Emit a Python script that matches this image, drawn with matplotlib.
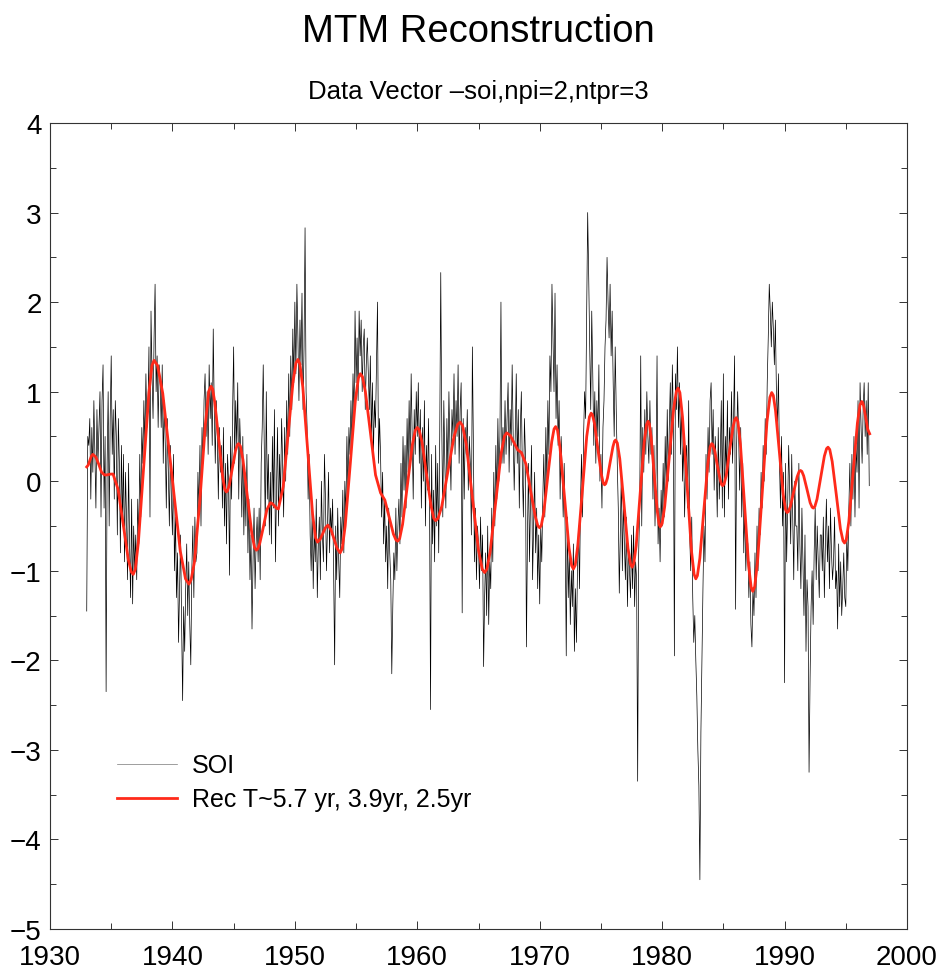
import numpy as np
import matplotlib
matplotlib.use("Agg")
import matplotlib.pyplot as plt
from matplotlib.ticker import MultipleLocator

plt.rcParams['font.family'] = ['Liberation Sans', 'DejaVu Sans']

# monthly SOI, one row per year, 1933-1996
soi_start = 1933
soi = [
    [-1.45, 0.5, 0.4, 0.7, -0.2, 0.6, 0.1, 0.9, 0.3, -0.3, 0.8, 0.2],      # 1933
    [0.6, 1.0, -0.4, 0.9, 1.3, -0.3, 0.5, -2.35, 0.2, 1.0, -0.5, 0.7],
    [1.4, 0.3, 0.8, -0.2, 0.9, 0.5, -0.6, 0.7, 0.2, -0.8, 0.4, -0.5],
    [0.3, -0.9, 0.1, -0.4, -1.1, 0.2, -0.7, -1.3, -0.2, -1.37, -0.5, -1.0],
    [-0.6, -1.1, -0.2, -0.7, 0.3, -0.4, 0.6, 0.2, 0.9, 0.4, 1.2, 0.6],
    [0.8, 1.5, -0.4, 1.9, 1.2, 0.7, 1.6, 2.2, 1.0, 1.4, 0.6, 1.3],
    [1.1, 0.6, 1.3, 0.2, 0.9, 0.4, -0.3, 0.7, 0.1, -0.5, 0.4, -0.2],
    [-0.6, 0.3, -1.0, -0.4, -1.3, -0.8, -1.8, -1.2, -0.6, -1.6, -2.45, -1.4],  # 1940
    [-1.9, -1.2, -0.7, -1.5, -0.9, -1.6, -2.05, -1.0, -0.5, -1.3, -0.4, -0.9],
    [-0.8, 0.1, -0.3, 0.4, -0.5, 0.6, 0.2, 0.9, 1.2, 0.5, 1.0, 0.3],
    [1.3, 0.7, 1.1, 0.4, 1.7, 0.8, 0.2, 0.9, 0.5, -0.2, 0.6, 0.1],
    [0.4, -0.3, 0.6, -0.5, 0.2, -0.7, 0.3, 0.0, -1.05, 0.5, -0.2, 0.8],
    [1.5, 0.2, 0.9, 0.4, 1.1, -0.2, 0.7, 0.3, -0.4, 0.5, -0.6, 0.1],
    [-0.5, 0.3, -0.8, -0.2, -1.1, -0.6, -1.65, -0.9, -0.3, -1.2, -0.7, -0.4],
    [-0.9, -0.3, -1.1, 0.2, 0.6, 1.3, 0.4, -0.5, 1.0, -0.2, 0.3, -0.6],
    [0.1, -0.7, 0.5, -0.3, 0.8, -0.9, -0.1, 0.6, -0.5, 0.3, -0.2, 0.7],
    [0.2, -0.4, 0.6, 0.0, 0.9, 0.3, 1.2, 0.5, 1.4, 0.8, 1.7, 1.1],
    [2.0, 1.2, 2.2, 1.6, 0.9, 1.8, 1.3, 2.1, 0.8, 1.5, 2.83, 1.0],         # 1950
    [0.6, -0.2, 0.3, -0.6, -1.0, -0.3, -1.2, -0.5, -0.9, -0.2, -1.3, -0.7],
    [-0.4, -1.1, 0.0, -0.6, -0.9, 0.3, -0.2, -1.0, -0.5, 0.1, -0.8, -0.3],
    [-0.6, -0.2, -1.0, -2.05, -0.5, -1.1, -0.3, -0.9, -1.3, -0.4, -0.7, -0.1],
    [-0.8, 0.0, -0.4, 0.5, -0.1, 0.6, 0.3, 0.9, 0.4, 1.2, 0.7, 1.9],
    [1.1, 1.6, 0.9, 1.9, 1.4, 1.8, 1.0, 1.5, 1.7, 0.8, 1.3, 1.6],
    [1.2, 0.8, 1.4, 0.5, 1.1, 0.3, 0.9, 0.6, 1.3, 2.0, 0.2, 0.7],
    [0.3, -0.4, 0.1, -0.7, -0.2, -0.9, -0.5, -1.2, -0.3, -0.8, -1.1, -2.15],
    [-1.4, -0.8, -1.1, -0.3, -1.0, -0.5, -0.2, -0.7, 0.2, -0.4, 0.5, -0.1],
    [0.4, -0.3, 0.7, 0.1, 0.9, 0.2, 1.2, 0.5, -0.2, 0.8, 0.3, 1.0],
    [0.5, 1.1, 0.2, 0.8, -0.3, 0.6, 0.0, 0.9, -0.5, 0.4, -0.1, 0.7],       # 1960
    [-0.2, -2.55, 0.3, -0.7, -0.1, -0.9, 0.4, -0.5, 0.2, -0.8, 0.5, 2.33],
    [0.6, -0.4, 0.9, 0.2, -0.3, 0.7, 0.1, 1.0, 0.4, -0.1, 0.8, 0.5],
    [1.2, 0.3, 0.9, 0.5, 1.3, 0.2, 0.8, 1.1, -1.47, 0.7, -0.2, 0.6],
    [0.3, 0.8, -0.1, 0.5, 0.2, -0.6, 1.5, 0.4, -0.9, -0.3, -1.1, -0.5],
    [-0.7, -1.2, -0.4, -1.0, -0.6, -2.07, -1.3, -0.8, -1.5, -0.5, -1.6, -0.9],
    [-1.2, -0.3, -0.9, 0.1, -0.5, 0.4, -0.2, 0.7, 0.0, 0.5, 2.0, 0.2],
    [0.6, 0.2, 0.9, 0.3, 0.7, 1.1, 0.1, 0.8, 0.4, 1.3, 0.5, -0.1],
    [0.5, 1.2, 0.2, 0.8, -0.3, 0.6, 1.0, 0.1, -0.4, 0.7, 0.3, -1.85],
    [-0.6, 0.2, -0.9, -0.2, 0.4, -1.1, -0.5, 0.1, -0.8, -0.3, -1.2, -0.6],
    [-1.37, -0.5, -0.9, -0.2, 0.3, -0.4, 0.6, 0.0, 0.9, 0.3, 1.4, 1.0],    # 1970
    [2.2, 1.6, 1.0, 2.1, 0.7, 1.3, 0.4, 0.9, -0.2, 0.5, 0.1, -0.4],
    [0.2, -0.6, -1.95, -0.4, -1.3, -0.8, -1.6, -1.0, -1.4, -0.7, -1.9, -1.2],
    [-1.8, -1.0, -0.5, -1.2, -0.2, 0.3, -0.4, 0.5, 1.0, 0.7, 1.8, 3.0],
    [2.3, 1.5, 0.8, 1.9, 1.2, 0.4, 1.0, 0.2, 0.9, 0.5, 1.3, 0.0],
    [0.3, -0.3, 0.6, 0.9, 1.5, 1.8, 2.5, 2.0, 1.6, 2.2, 1.4, 1.9],
    [1.1, 0.5, 1.5, 0.8, 0.2, -0.3, -1.25, -0.6, 0.1, -1.0, -0.2, -0.7],
    [-1.1, -0.4, -1.4, -0.7, -1.0, -1.3, -0.6, -1.2, -0.5, -1.4, -0.9, -1.1],
    [-3.35, -0.8, -0.3, 1.4, -0.5, 0.6, 0.1, 0.8, 0.3, 1.0, 0.5, 0.2],
    [0.9, 0.3, 0.6, -0.2, 0.4, -0.5, 0.1, 1.4, -0.7, -0.3, -0.9, -0.1],
    [-0.5, 0.2, -0.4, 0.5, -0.1, 0.8, 0.0, 0.6, 1.1, 0.3, 1.3, 0.7],       # 1980
    [-1.95, 1.2, 0.8, 1.5, 0.6, 1.1, 0.3, 0.9, 0.0, 0.5, -0.4, 0.2],
    [0.4, -0.3, 0.9, -0.6, -1.0, -0.4, -1.3, -1.8, -1.5, -2.0, -2.4, -3.0],
    [-3.4, -4.45, -2.8, -2.0, -1.2, -0.5, -0.9, 0.3, -0.2, 0.6, 0.1, 0.9],
    [1.1, 0.3, 0.8, -0.1, 0.5, 0.2, -0.4, 0.6, -0.2, 0.3, 0.9, -0.3],
    [1.2, -0.4, 0.5, 0.1, 0.9, -0.2, 0.6, 0.3, 1.0, 0.2, 0.7, 1.4],
    [-1.43, 0.4, 1.0, 0.5, -0.1, 0.6, -0.4, 0.2, -0.8, -0.3, -1.0, -0.6],
    [-0.7, -1.3, -0.9, -1.6, -1.85, -1.2, -1.5, -0.8, -1.3, -0.5, -1.0, -0.3],
    [-0.6, 0.1, -0.3, 0.4, 0.0, 0.7, 0.3, 1.1, 1.6, 2.2, 1.9, 1.5],
    [2.0, 1.7, 1.3, 1.8, 1.0, 0.6, 1.2, 0.2, -0.3, 0.5, -0.5, 0.1],
    [-2.25, 0.2, -0.9, -0.3, 0.4, -0.1, -0.7, 0.3, -0.4, -1.1, 0.0, -0.5],  # 1990
    [-0.5, -1.0, 0.2, -0.7, -1.2, -0.3, -0.9, -1.5, -0.6, -1.9, -1.1, -1.4],
    [-3.25, -2.2, -1.4, -1.0, -1.6, -0.8, -0.3, -1.1, -0.5, -0.9, -1.3, -0.6],
    [-0.6, -1.0, -0.4, -1.3, -0.7, -0.2, -0.9, -0.5, -1.2, -0.3, -0.8, -1.1],
    [-0.9, -0.4, -1.2, -1.0, -1.65, -0.7, -1.4, -0.9, -1.5, -1.2, -0.8, -1.3],
    [-1.4, -0.6, -1.0, -0.3, 0.2, -0.5, 0.3, -0.2, 0.5, -0.4, 0.4, 0.1],
    [0.9, -0.3, 1.1, 0.6, 0.2, 0.8, 1.1, 0.5, 0.9, 0.3, 1.1, -0.05],       # 1996
]

# MTM reconstruction (red curve), read at irregular times; one row per rise/fall
rec_t = [
    1933.0, 1933.12, 1933.25, 1933.38,
    1933.5, 1933.74, 1933.98, 1934.21,
    1934.45, 1934.62, 1934.8, 1934.97,
    1935.15, 1935.56, 1935.98, 1936.39, 1936.64,
    1936.8, 1936.97, 1937.22, 1937.65, 1938.08, 1938.33,
    1938.5, 1938.79, 1939.21, 1939.93, 1940.64, 1941.07,
    1941.35, 1941.53, 1941.8, 1942.25, 1942.7, 1942.97,
    1943.15, 1943.28, 1943.46, 1943.78, 1944.09, 1944.28,
    1944.4, 1944.5, 1944.65, 1944.9, 1945.15, 1945.3,
    1945.4, 1945.55, 1945.76, 1946.13, 1946.49, 1946.71,
    1946.85, 1946.97, 1947.14, 1947.43, 1947.71,
    1948.0, 1948.16, 1948.33, 1948.49,
    1948.65, 1949.05, 1949.45, 1949.85, 1950.09,
    1950.25, 1950.41, 1950.65, 1951.05, 1951.45, 1951.69,
    1951.85, 1952.06, 1952.28, 1952.49,
    1952.7, 1952.95, 1953.2, 1953.45,
    1953.7, 1953.87, 1954.11, 1954.53, 1954.94, 1955.19,
    1955.35, 1955.52, 1955.76, 1956.18, 1956.59,
    1957.0, 1957.35, 1957.7, 1958.05, 1958.26,
    1958.4, 1958.56, 1958.8, 1959.2, 1959.6, 1959.84,
    1960.0, 1960.15, 1960.38, 1960.75, 1961.13, 1961.35,
    1961.5, 1961.7, 1962.0, 1962.5, 1963.0, 1963.3,
    1963.5, 1963.7, 1964.0, 1964.5, 1965.0, 1965.3,
    1965.5, 1965.68, 1965.95, 1966.4, 1966.85, 1967.12,
    1967.3, 1967.6, 1967.9, 1968.2,
    1968.5, 1968.88, 1969.25, 1969.63, 1969.85,
    1970.0, 1970.13, 1970.33, 1970.65, 1970.98, 1971.17,
    1971.3, 1971.45, 1971.66, 1972.03, 1972.39, 1972.61,
    1972.75, 1972.9, 1973.11, 1973.48, 1973.84, 1974.06,
    1974.2, 1974.31, 1974.48, 1974.75, 1975.03, 1975.19,
    1975.3, 1975.39, 1975.53, 1975.75, 1975.98, 1976.11,
    1976.2, 1976.34, 1976.54, 1976.88, 1977.21, 1977.42,
    1977.55, 1977.68, 1977.88, 1978.2, 1978.53, 1978.72,
    1978.85, 1978.95, 1979.1, 1979.35, 1979.6, 1979.75,
    1979.85, 1980.0, 1980.21, 1980.58, 1980.94, 1981.16,
    1981.3, 1981.45, 1981.66, 1982.03, 1982.39, 1982.61,
    1982.75, 1982.88, 1983.08, 1983.4, 1983.73, 1983.92,
    1984.05, 1984.14, 1984.28, 1984.5, 1984.73, 1984.86,
    1984.95, 1985.06, 1985.23, 1985.5, 1985.78, 1985.94,
    1986.05, 1986.19, 1986.39, 1986.73, 1987.06, 1987.27,
    1987.4, 1987.56, 1987.79, 1988.18, 1988.56, 1988.8,
    1988.95, 1989.08, 1989.26, 1989.58, 1989.89, 1990.08,
    1990.2, 1990.31, 1990.48, 1990.75, 1991.03, 1991.19,
    1991.3, 1991.41, 1991.56, 1991.83, 1992.09, 1992.25,
    1992.35, 1992.47, 1992.65, 1992.95, 1993.25, 1993.43,
    1993.55, 1993.69, 1993.89, 1994.23, 1994.56, 1994.77,
    1994.9, 1995.04, 1995.25, 1995.6, 1995.95, 1996.16,
    1996.3, 1996.37, 1996.46, 1996.63, 1996.79, 1996.95,
]
rec_v = [
    0.16, 0.18, 0.23, 0.28,
    0.30, 0.27, 0.19, 0.10,
    0.07, 0.07, 0.075, 0.08,
    0.08, -0.09, -0.48, -0.87, -1.013,
    -1.04, -0.983, -0.68, 0.16, 0.99, 1.293,
    1.35, 1.29, 0.98, 0.10, -0.78, -1.09,
    -1.15, -1.097, -0.90, -0.20, 0.65, 1.007,
    1.06, 1.032, 0.88, 0.47, 0.06, -0.092,
    -0.12, -0.107, -0.04, 0.15, 0.34, 0.407,
    0.42, 0.391, 0.24, -0.18, -0.59, -0.741,
    -0.77, -0.757, -0.69, -0.51, -0.32,
    -0.24, -0.25, -0.275, -0.30,
    -0.31, -0.06, 0.53, 1.11, 1.32,
    1.36, 1.311, 1.05, 0.34, -0.37, -0.631,
    -0.68, -0.65, -0.585, -0.52,
    -0.49, -0.54, -0.645, -0.75,
    -0.80, -0.752, -0.50, 0.20, 0.90, 1.152,
    1.20, 1.168, 1.00, 0.535, 0.07,
    -0.13, -0.21, -0.40, -0.59, -0.657,
    -0.67, -0.64, -0.48, -0.035, 0.41, 0.57,
    0.60, 0.575, 0.44, 0.08, -0.28, -0.415,
    -0.44, -0.414, -0.28, 0.11, 0.50, 0.634,
    0.66, 0.62, 0.41, -0.18, -0.77, -0.98,
    -1.02, -0.983, -0.79, -0.24, 0.31, 0.503,
    0.54, 0.51, 0.43, 0.35,
    0.32, 0.19, -0.10, -0.39, -0.50,
    -0.52, -0.493, -0.35, 0.045, 0.44, 0.583,
    0.61, 0.572, 0.37, -0.185, -0.74, -0.942,
    -0.98, -0.938, -0.72, -0.11, 0.50, 0.718,
    0.76, 0.741, 0.64, 0.36, 0.08, -0.021,
    -0.04, -0.028, 0.035, 0.21, 0.385, 0.448,
    0.46, 0.426, 0.25, -0.25, -0.75, -0.926,
    -0.96, -0.921, -0.72, -0.145, 0.43, 0.631,
    0.67, 0.642, 0.49, 0.08, -0.33, -0.482,
    -0.51, -0.473, -0.28, 0.265, 0.81, 1.003,
    1.04, 0.989, 0.72, -0.025, -0.77, -1.039,
    -1.09, -1.054, -0.86, -0.335, 0.19, 0.384,
    0.42, 0.409, 0.35, 0.185, 0.02, -0.039,
    -0.05, -0.032, 0.06, 0.33, 0.60, 0.692,
    0.71, 0.663, 0.42, -0.26, -0.94, -1.183,
    -1.23, -1.177, -0.90, -0.12, 0.66, 0.937,
    0.99, 0.958, 0.79, 0.32, -0.15, -0.318,
    -0.35, -0.339, -0.28, -0.115, 0.05, 0.109,
    0.12, 0.11, 0.06, -0.09, -0.24, -0.29,
    -0.30, -0.284, -0.20, 0.04, 0.28, 0.364,
    0.38, 0.354, 0.22, -0.155, -0.53, -0.664,
    -0.69, -0.652, -0.45, 0.10, 0.65, 0.852,
    0.89, 0.881, 0.84, 0.71, 0.58, 0.53,
]

soi_vals = np.concatenate([np.array(r) for r in soi])
soi_t = soi_start + np.arange(len(soi_vals)) / 12.0

fig = plt.figure(figsize=(9.47, 9.70), dpi=100)
ax = fig.add_axes([50 / 947, 40 / 970, 857 / 947, 806 / 970])

ax.plot(soi_t, soi_vals, color='black', lw=0.5, label='SOI')
ax.plot(rec_t, rec_v, color='#ff2a1a', lw=2.0, solid_joinstyle='round',
        label='Rec T~5.7 yr, 3.9yr, 2.5yr')

ax.set_xlim(1930, 2000)
ax.set_ylim(-5, 4)
ax.xaxis.set_major_locator(MultipleLocator(10))
ax.xaxis.set_minor_locator(MultipleLocator(5))
ax.yaxis.set_major_locator(MultipleLocator(1))
ax.yaxis.set_minor_locator(MultipleLocator(0.5))
ax.tick_params(which='both', direction='in', top=True, right=True, width=0.7, color='#333333')
ax.tick_params(which='major', length=6, labelsize=20)
ax.tick_params(axis='x', which='major', pad=11)
ax.tick_params(axis='y', which='major', pad=6)
ax.tick_params(which='minor', length=4)
for s in ax.spines.values():
    s.set_linewidth(0.8)
    s.set_color('#333333')

leg = ax.legend(loc='upper left', bbox_to_anchor=(0.078, 0.218), frameon=False,
                fontsize=18, handlelength=2.4, handletextpad=0.6, labelspacing=0.4,
                borderpad=0, borderaxespad=0)
leg.get_lines()[0].set_color('#777777')

fig.text(0.505, 0.967, 'MTM Reconstruction', ha='center', va='center', fontsize=27.5)
fig.text(0.505, 0.905, 'Data Vector \u2013soi,npi=2,ntpr=3', ha='center', va='center', fontsize=18.5)

fig.savefig('out.png', dpi=100)
